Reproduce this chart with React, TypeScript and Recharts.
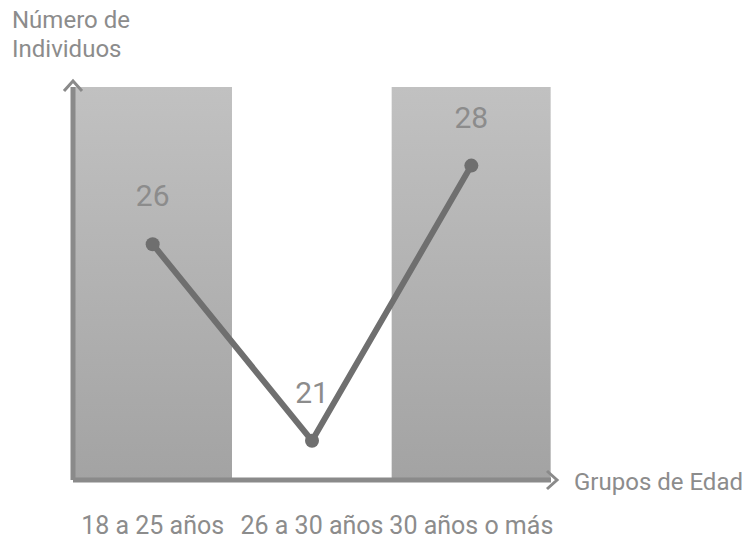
import React from 'react';
import { ComposedChart, Bar, Line, XAxis, YAxis, LabelList, Label } from 'recharts';

const grupos = ['18 a 25 años', '26 a 30 años', '30 años o más'];
const individuos = [26, 21, 28];
const fondo = [30, null, 30];
const yDomain = [20, 30];

const data = grupos.map((g, i) => ({ grupo: g, individuos: individuos[i], fondo: fondo[i] }));

const GRIS_TEXTO = '#8c8c8c';
const GRIS_EJE = '#8a8a8a';
const GRIS_LINEA = '#6f6f6f';
const FUENTE = 'Roboto, sans-serif';

const ValorLabel = (props: any) => {
  const { x, y, value } = props;
  return (
    <text x={x} y={y - 38} textAnchor="middle" fill={GRIS_TEXTO} fontSize={30} fontFamily={FUENTE}>
      {value}
    </text>
  );
};

const TituloX = (props: any) => {
  const { viewBox } = props;
  return (
    <text x={viewBox.x + viewBox.width + 23} y={viewBox.y + 10} fill={GRIS_TEXTO} fontSize={24} fontFamily={FUENTE}>
      Grupos de Edad
    </text>
  );
};

const TituloY = () => (
  <text fill={GRIS_TEXTO} fontSize={24} fontFamily={FUENTE}>
    <tspan x={12} y={28}>Número de</tspan>
    <tspan x={12} y={57}>Individuos</tspan>
  </text>
);

export default function App() {
  return (
    <div style={{ position: 'absolute', left: 0, top: 0, background: '#fff' }}>
      <ComposedChart
        width={749}
        height={541}
        data={data}
        margin={{ top: 87, right: 198, left: 72, bottom: 0 }}
        barCategoryGap={0}
      >
        <defs>
          <linearGradient id="bgGrad" x1="0" y1="0" x2="0" y2="1">
            <stop offset="0%" stopColor="#c1c1c1" />
            <stop offset="100%" stopColor="#a3a3a3" />
          </linearGradient>
          <marker id="flecha" viewBox="0 0 12 20" refX={4} refY={10} markerWidth={12} markerHeight={20}
            markerUnits="userSpaceOnUse" orient="auto-start-reverse" overflow="visible">
            <path d="M0,1 L10,10 L0,19" fill="none" stroke={GRIS_EJE} strokeWidth={3} />
          </marker>
        </defs>
        <XAxis
          dataKey="grupo"
          tickLine={false}
          tickSize={0}
          tickMargin={36}
          height={61}
          axisLine={{ stroke: GRIS_EJE, strokeWidth: 5, markerEnd: 'url(#flecha)' }}
          tick={{ fill: GRIS_TEXTO, fontSize: 25, fontFamily: FUENTE }}
          interval={0}
        >
          <Label content={<TituloX />} />
        </XAxis>
        <YAxis
          domain={yDomain}
          width={1}
          tick={false}
          tickLine={false}
          axisLine={{ stroke: GRIS_EJE, strokeWidth: 5, markerStart: 'url(#flecha)' }}
        >
          <Label content={<TituloY />} />
        </YAxis>
        <Bar dataKey="fondo" fill="url(#bgGrad)" isAnimationActive={false} />
        <Line
          dataKey="individuos"
          stroke={GRIS_LINEA}
          strokeWidth={6}
          dot={{ r: 7, fill: GRIS_LINEA, stroke: GRIS_LINEA, strokeWidth: 0 }}
          activeDot={false}
          isAnimationActive={false}
        >
          <LabelList dataKey="individuos" content={<ValorLabel />} />
        </Line>
      </ComposedChart>
    </div>
  );
}
